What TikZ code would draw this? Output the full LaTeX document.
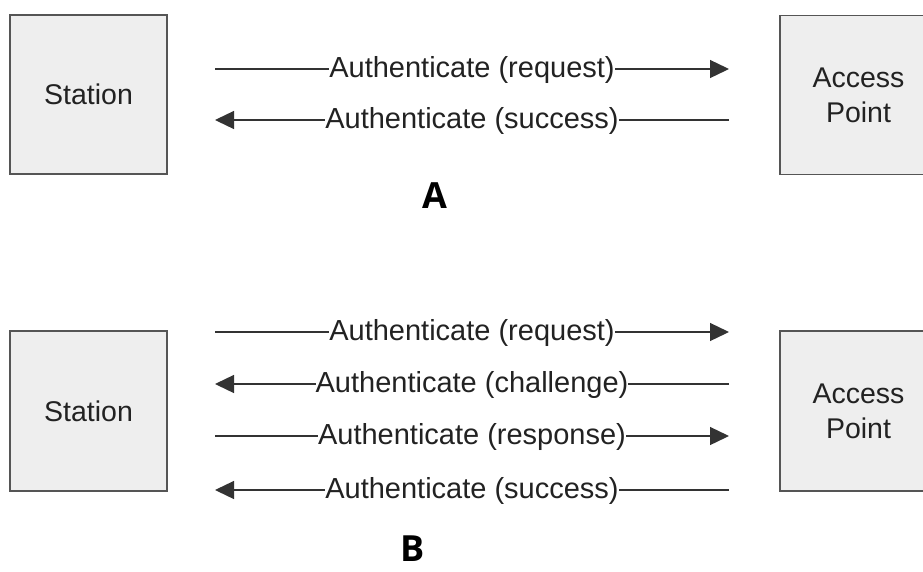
\documentclass[tikz,border=0pt]{standalone}
\usepackage{fontspec}
\setmainfont{Liberation Sans}
\newfontfamily\partfont{Open Sans}
\usetikzlibrary{arrows.meta}

\definecolor{boxline}{HTML}{555555}
\definecolor{boxfill}{HTML}{EEEEEE}
\definecolor{lineclr}{HTML}{333333}
\definecolor{txtclr}{HTML}{222222}

\begin{document}
\begin{tikzpicture}[x=1pt,y=-1pt,
  box/.style={draw=boxline, fill=boxfill, line width=1.6pt, minimum width=157pt,
    minimum height=159pt, inner sep=0pt, align=center, text=txtclr,
    font=\fontsize{28.5}{35}\selectfont},
  msg/.style={draw=lineclr, line width=1.3pt},
  tip/.style={-{Triangle[length=19pt,width=18pt]}},
  lbl/.style={fill=white, inner xsep=0pt, inner ysep=1pt, anchor=base, yshift=-8pt,
    text=txtclr, font=\fontsize{29}{34}\selectfont},
  part/.style={anchor=base, inner sep=0pt, text=black,
    font=\partfont\bfseries\fontsize{36}{40}\selectfont}
]
\useasboundingbox (0,0) rectangle (923,571);
\clip (0,0) rectangle (923,571);

% ---- open system authentication ----
\node[box] (staA) at (88.5,94.5) {Station};
\node[box] (apA) at (858.5,95) {Access\\Point};

\coordinate (a1l) at (215,69);  \coordinate (a1r) at (729,69);
\coordinate (a2l) at (215,120); \coordinate (a2r) at (729,120);

\draw[msg,tip] (a1l) -- (a1r) node[midway,lbl] {Authenticate (request)};
\draw[msg,tip] (a2r) -- (a2l) node[midway,lbl] {Authenticate (success)};

\node[part] (partA) at (435,208) {A};

% ---- shared key authentication ----
\node[box,minimum height=160pt] (staB) at (88.5,411) {Station};
\node[box,minimum height=160pt] (apB) at (858.5,411) {Access\\Point};

\coordinate (b1l) at (215,332); \coordinate (b1r) at (729,332);
\coordinate (b2l) at (215,384); \coordinate (b2r) at (729,384);
\coordinate (b3l) at (215,436); \coordinate (b3r) at (729,436);
\coordinate (b4l) at (215,490); \coordinate (b4r) at (729,490);

\draw[msg,tip] (b1l) -- (b1r) node[midway,lbl] {Authenticate (request)};
\draw[msg,tip] (b2r) -- (b2l) node[midway,lbl] {Authenticate (challenge)};
\draw[msg,tip] (b3l) -- (b3r) node[midway,lbl] {Authenticate (response)};
\draw[msg,tip] (b4r) -- (b4l) node[midway,lbl] {Authenticate (success)};

\node[part] (partB) at (413,561) {B};
\end{tikzpicture}
\end{document}
